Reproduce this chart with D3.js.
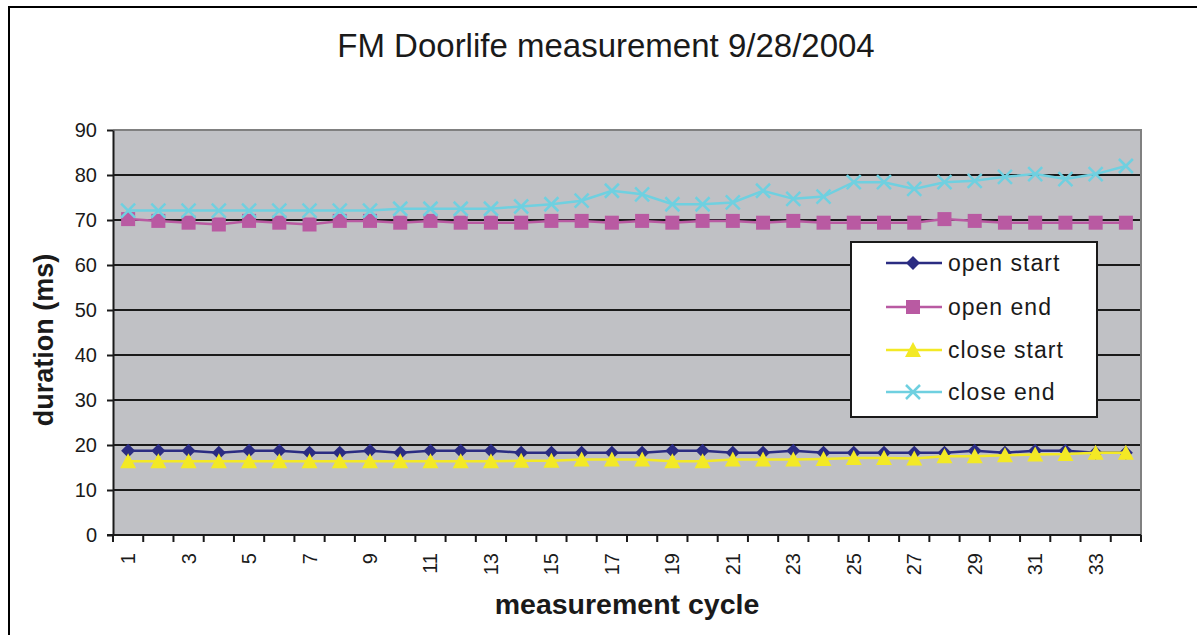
<!DOCTYPE html>
<html><head><meta charset="utf-8">
<script src="https://cdn.jsdelivr.net/npm/d3@7"></script>
<style>body{margin:0;background:#fff;}svg{display:block;font-family:"Liberation Sans",Arial,sans-serif;}</style>
</head><body>
<script>
const cycles = d3.range(1, 35);
const openStart = [18.7,18.7,18.7,18.3,18.7,18.7,18.3,18.3,18.7,18.3,18.7,18.7,18.7,18.3,18.3,18.3,18.3,18.3,18.7,18.7,18.3,18.3,18.7,18.3,18.3,18.3,18.3,18.3,18.7,18.3,18.7,18.7,18.3,18.3];
const openEnd = [70.2,69.8,69.4,69.0,69.8,69.4,69.0,69.8,69.8,69.4,69.8,69.4,69.4,69.4,69.8,69.8,69.4,69.8,69.4,69.8,69.8,69.4,69.8,69.4,69.4,69.4,69.4,70.2,69.8,69.4,69.4,69.4,69.4,69.4];
const closeStart = [16.4,16.4,16.4,16.4,16.4,16.4,16.4,16.4,16.4,16.4,16.4,16.4,16.4,16.5,16.5,16.8,16.8,16.8,16.4,16.4,16.8,16.8,16.8,16.9,17.1,17.1,17.0,17.5,17.5,17.7,17.9,18.0,18.3,18.3];
const closeEnd = [72.1,72.1,72.1,72.1,72.1,72.1,72.1,72.1,72.1,72.5,72.5,72.5,72.5,73.0,73.5,74.3,76.5,75.7,73.5,73.5,73.9,76.5,74.7,75.2,78.4,78.4,76.9,78.4,78.7,79.6,80.2,79.1,80.2,82.0];
const yTicks = [0,10,20,30,40,50,60,70,80,90];
const seriesNames = ["open start","open end","close start","close end"];
const seriesColors = ["#2b2c82","#b95aa2","#f3e925","#6fd0e0"];
const seriesSymbols = ["diamond","square","triangle","x"];
const seriesData = [openStart, openEnd, closeStart, closeEnd];

const W = 1197, H = 635;
const svg = d3.select("body").append("svg").attr("width", W).attr("height", H);
const L = 113, R = 1141, T = 130, B = 535;

// outer frame
svg.append("rect").attr("x",9).attr("y",7).attr("width",1300).attr("height",800)
  .attr("fill","#fff").attr("stroke","#000").attr("stroke-width",2);

const x = d3.scaleBand().domain(cycles).range([L, R]).padding(0);
const y = d3.scaleLinear().domain([0, 90]).range([B, T]);

// plot bg
svg.append("rect").attr("x",L).attr("y",T).attr("width",R-L).attr("height",B-T).attr("fill","#c0c1c5");
// gridlines
svg.append("g").selectAll("line").data(yTicks.filter(d=>d>0 && d<90)).join("line")
  .attr("x1",L).attr("x2",R).attr("y1",d=>y(d)).attr("y2",d=>y(d))
  .attr("stroke","#1a1a1a").attr("stroke-width",2);
// top/right gray border
svg.append("path").attr("d",`M${L},${T}H${R}V${B}`).attr("fill","none").attr("stroke","#808080").attr("stroke-width",2);

// y axis
const yAxis = svg.append("g").attr("transform",`translate(${L},0)`)
  .call(d3.axisLeft(y).tickValues(yTicks).tickSize(6).tickPadding(10).tickSizeOuter(0));
yAxis.select(".domain").attr("stroke","#1a1a1a").attr("stroke-width",2);
yAxis.selectAll(".tick line").attr("stroke","#1a1a1a").attr("stroke-width",2);
yAxis.selectAll("text").attr("font-size",20).attr("fill","#1a1a1a").attr("font-family","Liberation Sans, Arial");

// x axis
svg.append("line").attr("x1",L-6).attr("x2",R).attr("y1",B).attr("y2",B).attr("stroke","#1a1a1a").attr("stroke-width",2);
const bounds = cycles.map(c => x(c)).concat([R]);
svg.append("g").selectAll("line").data(bounds).join("line")
  .attr("x1",d=>d).attr("x2",d=>d).attr("y1",B).attr("y2",B+7).attr("stroke","#1a1a1a").attr("stroke-width",2);
svg.append("g").selectAll("text").data(cycles.filter(c=>c%2===1)).join("text")
  .attr("transform",d=>`translate(${x(d)+x.bandwidth()/2+7},${B+18}) rotate(-90)`)
  .attr("text-anchor","end").attr("font-size",20).attr("fill","#1a1a1a").text(d=>d);

// series
const line = d3.line().x((d,i)=>x(cycles[i])+x.bandwidth()/2).y(d=>y(d));
function drawMarker(g, type, color){
  if(type==="x"){
    g.append("path").attr("d","M-7,-7L7,7M-7,7L7,-7").attr("stroke",color).attr("stroke-width",2.5).attr("fill","none");
  } else if(type==="diamond"){
    g.append("path").attr("d","M0,-7L7,0L0,7L-7,0Z").attr("fill",color);
  } else if(type==="triangle"){
    g.append("path").attr("d","M0,-8L8,7L-8,7Z").attr("fill",color);
  } else {
    g.append("rect").attr("x",-7).attr("y",-7).attr("width",14).attr("height",14).attr("fill",color);
  }
}
seriesData.forEach((data, si) => {
  svg.append("path").datum(data).attr("d", line).attr("fill","none")
    .attr("stroke", seriesColors[si]).attr("stroke-width", 2.5);
  data.forEach((v,i)=>{
    const g = svg.append("g").attr("transform",`translate(${x(cycles[i])+x.bandwidth()/2},${y(v)})`);
    drawMarker(g, seriesSymbols[si], seriesColors[si]);
  });
});

// legend
const lg = svg.append("g");
lg.append("rect").attr("x",851).attr("y",242).attr("width",246).attr("height",175)
  .attr("fill","#fff").attr("stroke","#1a1a1a").attr("stroke-width",2);
const rowsY = [263,307,350,392];
seriesNames.forEach((n,i)=>{
  lg.append("line").attr("x1",886).attr("x2",942).attr("y1",rowsY[i]).attr("y2",rowsY[i])
    .attr("stroke",seriesColors[i]).attr("stroke-width",2.5);
  const g = lg.append("g").attr("transform",`translate(913,${rowsY[i]})`);
  drawMarker(g, seriesSymbols[i], seriesColors[i]);
  lg.append("text").attr("x",948).attr("y",rowsY[i]+8).attr("font-size",23).attr("letter-spacing",1)
    .attr("fill","#1a1a1a").text(n);
});

// titles
svg.append("text").attr("x",606).attr("y",57).attr("text-anchor","middle").attr("font-size",33)
  .attr("fill","#1a1a1a").text("FM Doorlife measurement 9/28/2004");
svg.append("text").attr("transform","translate(53,340) rotate(-90)").attr("text-anchor","middle")
  .attr("font-size",27).attr("font-weight","bold").attr("fill","#1a1a1a").text("duration (ms)");
svg.append("text").attr("x",627).attr("y",614).attr("text-anchor","middle")
  .attr("font-size",28.5).attr("font-weight","bold").attr("fill","#1a1a1a").text("measurement cycle");
</script>
</body></html>
